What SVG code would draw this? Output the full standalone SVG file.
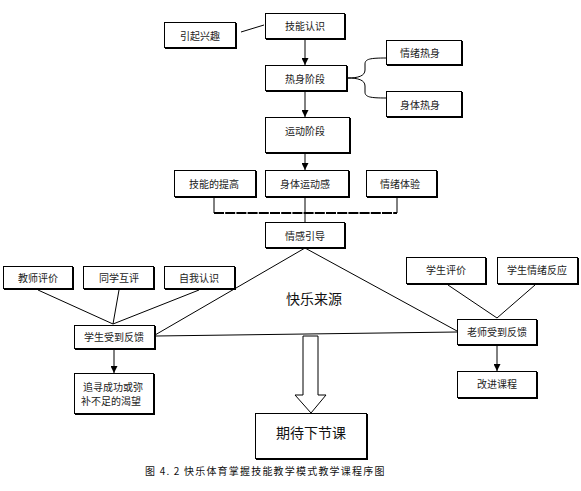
<svg xmlns="http://www.w3.org/2000/svg" width="581" height="491" viewBox="0 0 581 491">
<defs>
<style>
.sh{fill:#000}
.bx{fill:#fff;stroke:#000;stroke-width:1}
.t{font-family:"Noto Sans CJK SC","Liberation Sans",sans-serif;font-size:10px;fill:#222;text-anchor:middle;dominant-baseline:central}
.tl{font-family:"Noto Sans CJK SC","Liberation Sans",sans-serif;font-size:14px;fill:#111;text-anchor:middle;dominant-baseline:central}
.ln{fill:none;stroke:#000;stroke-width:1}
.cap{font-family:"Noto Sans CJK SC","Liberation Serif",serif;font-size:10px;fill:#111;letter-spacing:1.2px}
</style>
<marker id="ar" viewBox="0 0 8 8" refX="8" refY="4" markerWidth="7" markerHeight="7" markerUnits="userSpaceOnUse" orient="auto">
<path d="M0,0 L8,4 L0,8 Z" fill="#000"/>
</marker>
</defs>
<rect width="581" height="491" fill="#fff"/>

<g id="connectors">
<line class="ln" x1="241" y1="32" x2="264" y2="25"/>
<line class="ln" x1="305" y1="40" x2="305" y2="65" marker-end="url(#ar)"/>
<path class="ln" d="M348,78 C358,78 365,76 365,70 L365,64 C365,59 370,58 386,58"/>
<path class="ln" d="M348,78 C358,78 365,80 365,86 L365,92 C365,97 370,98 386,98"/>
<line class="ln" x1="305" y1="92" x2="305" y2="117" marker-end="url(#ar)"/>
<line class="ln" x1="305" y1="154" x2="305" y2="170" marker-end="url(#ar)"/>
<line class="ln" x1="214" y1="198" x2="214" y2="213"/>
<line class="ln" x1="397" y1="198" x2="397" y2="213"/>
<line x1="214" y1="213" x2="397" y2="213" stroke="#000" stroke-width="2" stroke-dasharray="10 1.2"/>
<line class="ln" x1="305" y1="198" x2="305" y2="222"/>
<line class="ln" x1="305" y1="248" x2="155" y2="335"/>
<line class="ln" x1="305" y1="248" x2="457" y2="331"/>
<line class="ln" x1="156" y1="336" x2="457" y2="332"/>
<line class="ln" x1="38" y1="290" x2="113" y2="324"/>
<line class="ln" x1="119" y1="290" x2="113" y2="324"/>
<line class="ln" x1="199" y1="290" x2="113" y2="324"/>
<line class="ln" x1="114" y1="350" x2="114" y2="373" marker-end="url(#ar)"/>
<line class="ln" x1="448" y1="285" x2="497" y2="318"/>
<line class="ln" x1="535" y1="285" x2="497" y2="318"/>
<line class="ln" x1="497" y1="346" x2="497" y2="371" marker-end="url(#ar)"/>
<path fill="#fff" stroke="#000" stroke-width="1" d="M303,336 H318 V395 H326 L311,413 L295,395 H303 Z"/>
</g>

<g id="n-yinqi"><rect class="sh" x="165" y="23" width="72" height="26"/><rect class="bx" x="164.5" y="22.5" width="71" height="25"/><text class="t" x="200" y="35">引起兴趣</text></g>
<g id="n-jineng"><rect class="sh" x="266" y="14" width="80" height="26"/><rect class="bx" x="265.5" y="13.5" width="79" height="25"/><text class="t" x="305" y="25">技能认识</text></g>
<g id="n-reshen"><rect class="sh" x="266" y="66" width="82" height="26"/><rect class="bx" x="265.5" y="65.5" width="81" height="25"/><text class="t" x="305" y="78">热身阶段</text></g>
<g id="n-qingxu-re"><rect class="sh" x="387" y="41" width="76" height="25"/><rect class="bx" x="386.5" y="40.5" width="75" height="24"/><text class="t" x="420" y="52">情绪热身</text></g>
<g id="n-shenti-re"><rect class="sh" x="387" y="92" width="76" height="26"/><rect class="bx" x="386.5" y="91.5" width="75" height="25"/><text class="t" x="420" y="104">身体热身</text></g>
<g id="n-yundong"><rect class="sh" x="266" y="118" width="85" height="36"/><rect class="bx" x="265.5" y="117.5" width="84" height="35"/><text class="t" x="305" y="130">运动阶段</text></g>
<g id="n-tigao"><rect class="sh" x="175" y="171" width="82" height="27"/><rect class="bx" x="174.5" y="170.5" width="81" height="26"/><text class="t" x="214" y="183">技能的提高</text></g>
<g id="n-yundonggan"><rect class="sh" x="266" y="171" width="84" height="27"/><rect class="bx" x="265.5" y="170.5" width="83" height="26"/><text class="t" x="305" y="183">身体运动感</text></g>
<g id="n-tiyan"><rect class="sh" x="367" y="171" width="71" height="27"/><rect class="bx" x="366.5" y="170.5" width="70" height="26"/><text class="t" x="400" y="183">情绪体验</text></g>
<g id="n-yindao"><rect class="sh" x="266" y="223" width="80" height="26"/><rect class="bx" x="265.5" y="222.5" width="79" height="25"/><text class="t" x="305" y="235">情感引导</text></g>
<g id="n-kuaile"><text class="tl" x="314" y="298">快乐来源</text></g>
<g id="n-jiaoshi"><rect class="sh" x="4" y="267" width="70" height="23"/><rect class="bx" x="3.5" y="266.5" width="69" height="22"/><text class="t" x="38" y="277">教师评价</text></g>
<g id="n-tongxue"><rect class="sh" x="84" y="267" width="71" height="23"/><rect class="bx" x="83.5" y="266.5" width="70" height="22"/><text class="t" x="119" y="277">同学互评</text></g>
<g id="n-ziwo"><rect class="sh" x="165" y="267" width="71" height="23"/><rect class="bx" x="164.5" y="266.5" width="70" height="22"/><text class="t" x="199" y="277">自我认识</text></g>
<g id="n-xuesheng-fk"><rect class="sh" x="75" y="326" width="81" height="24"/><rect class="bx" x="74.5" y="325.5" width="80" height="23"/><text class="t" x="114" y="336">学生受到反馈</text></g>
<g id="n-zhuixun"><rect class="sh" x="75" y="374" width="80" height="41"/><rect class="bx" x="74.5" y="373.5" width="79" height="40"/><text class="t" x="113" y="386">追寻成功或弥</text><text class="t" x="111" y="400">补不足的渴望</text></g>
<g id="n-xspj"><rect class="sh" x="407" y="258" width="80" height="27"/><rect class="bx" x="406.5" y="257.5" width="79" height="26"/><text class="t" x="446" y="269">学生评价</text></g>
<g id="n-xsqx"><rect class="sh" x="498" y="258" width="81" height="27"/><rect class="bx" x="497.5" y="257.5" width="80" height="26"/><text class="t" x="537" y="269">学生情绪反应</text></g>
<g id="n-laoshi-fk"><rect class="sh" x="458" y="320" width="80" height="26"/><rect class="bx" x="457.5" y="319.5" width="79" height="25"/><text class="t" x="497" y="331">老师受到反馈</text></g>
<g id="n-gaijin"><rect class="sh" x="458" y="372" width="80" height="27"/><rect class="bx" x="457.5" y="371.5" width="79" height="26"/><text class="t" x="497" y="383">改进课程</text></g>
<g id="n-qidai"><rect class="sh" x="256" y="414" width="112" height="46"/><rect class="bx" x="255.5" y="413.5" width="111" height="45"/><text class="tl" x="311" y="432">期待下节课</text></g>
<text class="cap" x="145" y="475">图 4. 2 快乐体育掌握技能教学模式教学课程序图</text>
</svg>
